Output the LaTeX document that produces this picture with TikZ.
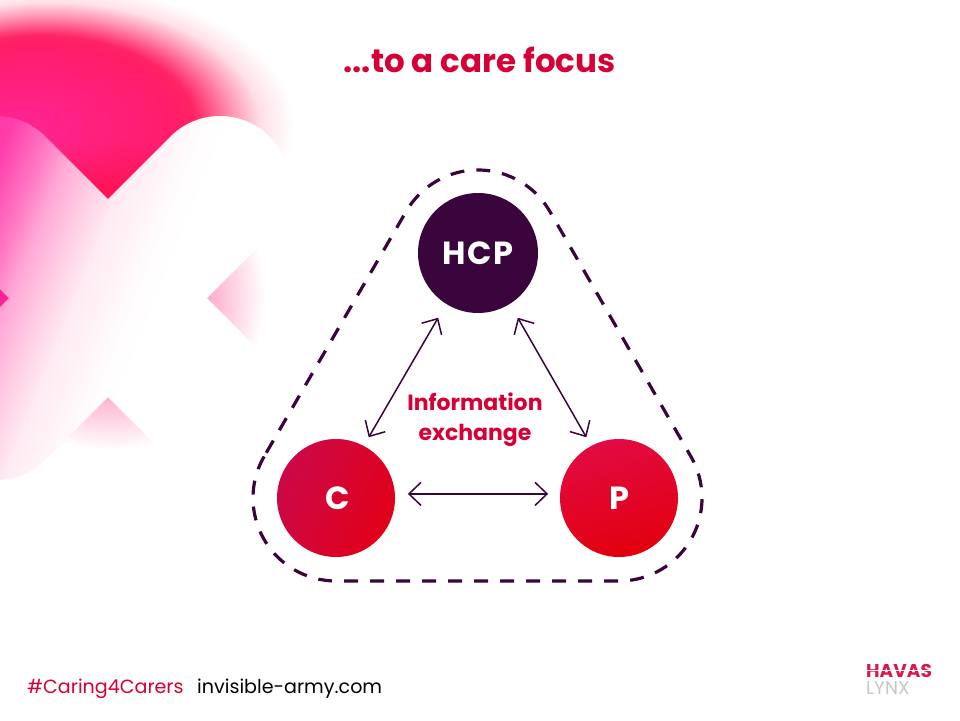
\documentclass[tikz,border=0pt]{standalone}
\usepackage{fontspec}
\setmainfont{Poppins}
\usetikzlibrary{arrows.meta,calc}
\definecolor{plum}{RGB}{58,4,60}
\definecolor{brand}{RGB}{214,0,54}
\definecolor{hotpink}{RGB}{255,32,150}
\definecolor{gA}{RGB}{255,36,150}
\definecolor{gB}{RGB}{255,32,125}
\definecolor{gC}{RGB}{255,28,105}
\definecolor{gD}{RGB}{255,35,100}
\definecolor{gE}{RGB}{255,150,180}
\definecolor{gF}{RGB}{255,225,232}
\definecolor{sA}{RGB}{255,130,175}
\definecolor{sB}{RGB}{255,165,200}
\definecolor{aA}{RGB}{255,60,170}
\definecolor{aB}{RGB}{255,120,195}
\definecolor{aC}{RGB}{255,170,215}
\definecolor{aD}{RGB}{255,210,230}
\definecolor{aE}{RGB}{255,235,243}
\definecolor{aF}{RGB}{255,253,254}
\pgfdeclareradialshading{glowone}{\pgfpoint{-7.5bp}{0bp}}{color(0bp)=(gA); color(7.5bp)=(gB); color(14bp)=(gC); color(16bp)=(gD); color(19.5bp)=(gE); color(22bp)=(gF); color(25bp)=(white); color(50bp)=(white)}
\pgfdeclareradialshading{glowtwo}{\pgfpoint{0bp}{0bp}}{color(0bp)=(sA); color(15bp)=(sB); color(25bp)=(white); color(50bp)=(white)}
\pgfdeclarehorizontalshading{armsheen}{100bp}{color(0bp)=(aA); color(30.6bp)=(aA); color(35.5bp)=(aB); color(38.8bp)=(aC); color(43.2bp)=(aD); color(46.4bp)=(aE); color(53.4bp)=(aF); color(56bp)=(white); color(100bp)=(white)}
\newcommand{\crossoutline}{(0,99) -- (62.5,161.5) arc[start angle=135,end angle=-45,radius=70] -- (99,0) -- (161.5,-62.5) arc[start angle=45,end angle=-135,radius=70] -- (0,-99) -- (-62.5,-161.5) arc[start angle=-45,end angle=-225,radius=70] -- (-99,0) -- (-161.5,62.5) arc[start angle=225,end angle=45,radius=70] -- cycle}
\tikzset{
  x=1pt,y=1pt,
  disc/.style={circle,inner sep=0pt,outer sep=0pt,minimum size=#1,text=white,font=\fontsize{32}{34}\bfseries\selectfont},
  link/.style={draw=plum,line width=1.5pt,{Straight Barb[length=12pt,width=23pt,line width=1.5pt]}-{Straight Barb[length=12pt,width=23pt,line width=1.5pt]}},
  ring/.style={draw=plum,line width=3.2pt,dash pattern=on 14pt off 12pt},
  redtext/.style={text=brand,inner sep=0pt,font=\bfseries\selectfont}
}
\begin{document}
\begin{tikzpicture}
\useasboundingbox (0,0) rectangle (960,-720);
\fill[white] (0,0) rectangle (960,-720);
% background glows
\begin{scope}
\clip (0,0) rectangle (960,-720);
\shade[shading=glowone] (90,-125) ellipse[x radius=240,y radius=140];
\shade[shading=glowtwo,blend mode=multiply] (110,-295) circle[radius=155];
\end{scope}
\fill[hotpink] (0,-286) -- (9,-298) -- (0,-310) -- cycle;
% cross
\begin{scope}[shift={(108,-298)}]
\clip \crossoutline;
\shade[shading=armsheen,shading angle=-21.8] (-200,-200) rectangle (200,200);
\end{scope}
% dashed hull
\coordinate (cc) at (336,-498);
\coordinate (pc) at (619,-498);
\coordinate (hc) at (478,-253);
\draw[ring] ($(cc)+(150:83)$) arc[start angle=150,end angle=270,radius=83] -- ($(pc)+(270:83)$) arc[start angle=270,end angle=390,radius=83] -- ($(hc)+(30:83)$) arc[start angle=30,end angle=150,radius=83] -- cycle;
% nodes
\node[disc=120pt,fill=plum] (HCP) at (hc) {\raisebox{-3pt}{\addfontfeatures{LetterSpace=6}HCP}};
\node[disc=118pt,shade,left color={rgb,255:red,204;green,8;blue,72},right color={rgb,255:red,226;green,0;blue,24},shading angle=65] (C) at (cc) {\raisebox{-3pt}{\hspace{3pt}C}};
\node[disc=118pt,shade,top color={rgb,255:red,226;green,10;blue,66},bottom color={rgb,255:red,226;green,0;blue,14},shading angle=15] (P) at (pc) {\raisebox{-3pt}{\hspace{1pt}P}};
% links
\draw[link,shorten <=16pt,shorten >=10pt] (HCP.-122) -- (C.62);
\draw[link,shorten <=16pt,shorten >=10pt] (HCP.-58) -- (P.118);
\draw[link,shorten <=13pt,shorten >=12pt] (C.4) -- (P.176);
% texts
\node[redtext,font=\fontsize{32.5}{36}\bfseries\selectfont] (title) at (479.5,-60) {...to a care focus};
\node[redtext,font=\fontsize{22}{30}\bfseries\selectfont,align=center] (info) at (475,-420) {Information\\exchange};
\node[redtext,font=\fontsize{19.1}{24}\selectfont,anchor=base west] (tag) at (27,-693) {\#Caring4Carers};
\node[inner sep=0pt,text=black!90!plum,font=\fontsize{19.1}{24}\selectfont,anchor=base west] (site) at (197,-693) {invisible-army.com};
\node[inner sep=0pt,text=brand!90!white,font=\fontsize{18.5}{20}\bfseries\selectfont,anchor=base west] (havas) at (866,-677) {HAVAS};
\fill[white] (860,-669.5) rectangle (940,-670.8);
\node[inner sep=0pt,text=black!22,font=\fontsize{18.5}{20}\selectfont,anchor=base west] (lynx) at (866,-694) {LYNX};
\end{tikzpicture}
\end{document}
